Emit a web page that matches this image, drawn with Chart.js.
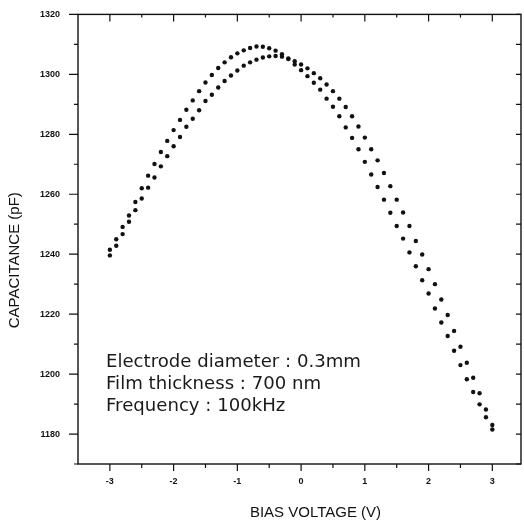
<!DOCTYPE html>
<html><head><meta charset="utf-8">
<script src="https://cdn.jsdelivr.net/npm/chart.js@4.4.0/dist/chart.umd.min.js"></script>
<style>html,body{margin:0;padding:0;background:#fff;}#wrap{width:524px;height:525px;position:relative;}</style>
</head><body><div id="wrap"><canvas id="c" width="524" height="525"></canvas></div>
<script>
const biasVoltage = [-3.0,-2.9,-2.8,-2.7,-2.6,-2.5,-2.4,-2.3,-2.2,-2.1,-2.0,-1.9,-1.8,-1.7,-1.6,-1.5,-1.4,-1.3,-1.2,-1.1,-1.0,-0.9,-0.8,-0.7,-0.6,-0.5,-0.4,-0.3,-0.2,-0.1,0.0,0.1,0.2,0.3,0.4,0.5,0.6,0.7,0.8,0.9,1.0,1.1,1.2,1.3,1.4,1.5,1.6,1.7,1.8,1.9,2.0,2.1,2.2,2.3,2.4,2.5,2.6,2.7,2.8,2.9,3.0];
const capacitanceSweepA = [1241.5,1245.0,1249.1,1252.9,1257.4,1262.0,1266.2,1270.1,1274.1,1277.8,1281.4,1284.8,1288.2,1291.3,1294.4,1297.3,1299.8,1302.1,1304.0,1305.7,1307.0,1308.0,1308.8,1309.3,1309.2,1308.7,1307.9,1306.7,1305.1,1303.3,1301.4,1299.4,1297.2,1294.9,1291.9,1289.2,1286.0,1282.3,1278.8,1275.0,1270.8,1266.6,1262.4,1258.2,1253.8,1249.4,1245.2,1240.6,1236.0,1231.3,1226.9,1221.9,1217.2,1212.7,1207.8,1203.0,1198.3,1194.0,1189.9,1185.6,1181.5];
const capacitanceSweepB = [1239.6,1242.8,1246.7,1250.8,1254.7,1258.6,1262.2,1265.6,1269.3,1272.7,1276.0,1279.1,1282.5,1285.2,1288.0,1291.1,1293.2,1295.6,1297.8,1299.6,1301.3,1302.9,1304.0,1304.9,1305.6,1306.0,1306.1,1305.9,1305.3,1304.4,1303.3,1302.0,1300.4,1298.7,1296.6,1294.4,1291.9,1289.1,1286.0,1282.6,1278.9,1275.0,1271.3,1267.1,1262.7,1258.2,1253.9,1249.4,1244.4,1239.9,1235.0,1230.0,1224.9,1219.7,1214.4,1209.1,1203.8,1198.8,1193.6,1188.2,1183.0];
const xTickValues = [-3,-2,-1,0,1,2,3];
const xMinorTickValues = [-2.5,-1.5,-0.5,0.5,1.5,2.5];
const yTickValues = [1180,1200,1220,1240,1260,1280,1300,1320];
const yMinorTickValues = [1170,1190,1210,1230,1250,1270,1290,1310];
const xAxisTitle = 'BIAS VOLTAGE (V)';
const yAxisTitle = 'CAPACITANCE (pF)';
const noteLines = ['Electrode diameter : 0.3mm','Film thickness : 700 nm','Frequency : 100kHz'];

const INK = '#111';
const tickFont = {family:'Liberation Sans', size:9, weight:'bold'};

const framePlugin = {
  id:'frame',
  afterDraw(chart){
    const {ctx, chartArea:a, scales:{x, y}} = chart;
    ctx.save();
    ctx.strokeStyle = INK; ctx.lineWidth = 1.4;
    ctx.strokeRect(a.left, a.top, a.right-a.left, a.bottom-a.top);
    ctx.lineWidth = 1.2;
    ctx.beginPath();
    const vx = (v,len,len2)=>{const p=x.getPixelForValue(v); ctx.moveTo(p,a.bottom); ctx.lineTo(p,a.bottom+len); ctx.moveTo(p,a.top); ctx.lineTo(p,a.top+len2);};
    xTickValues.forEach(v=>vx(v,7,7));
    xMinorTickValues.forEach(v=>vx(v,4,3));
    const hy = (v,len,len2)=>{const p=y.getPixelForValue(v); ctx.moveTo(a.left,p); ctx.lineTo(a.left-len,p); ctx.moveTo(a.right,p); ctx.lineTo(a.right-len2,p);};
    yTickValues.forEach(v=>hy(v,9,5));
    yMinorTickValues.forEach(v=>hy(v,4,5));
    ctx.stroke();
    // axis titles
    ctx.fillStyle = INK;
    ctx.font = '15px "Liberation Sans"';
    ctx.textAlign = 'center'; ctx.textBaseline = 'middle';
    ctx.fillText(xAxisTitle, (a.left+a.right)/2 + 16, a.bottom + 49);
    ctx.save();
    ctx.translate(15, (a.top+a.bottom)/2 + 21);
    ctx.rotate(-Math.PI/2);
    ctx.fillText(yAxisTitle, 0, 0);
    ctx.restore();
    // note
    ctx.font = '100px "DejaVu Sans"';
    const w = ctx.measureText(noteLines[0]).width;
    const fs = 100*255/w;
    ctx.font = fs.toFixed(2)+'px "DejaVu Sans"';
    ctx.fillStyle = '#1a1a1a';
    ctx.textAlign = 'left';
    noteLines.forEach((t,i)=>ctx.fillText(t, a.left+28, a.top+348+i*22));
    ctx.restore();
  }
};

const pts = arr => biasVoltage.map((v,i)=>({x:v, y:arr[i]}));
const dsStyle = {showLine:false, pointStyle:'circle', pointRadius:2.2, pointHoverRadius:2.2, pointBackgroundColor:INK, pointBorderWidth:0, borderColor:INK, backgroundColor:INK};

new Chart(document.getElementById('c'), {
  type:'scatter',
  data:{datasets:[
    Object.assign({label:'Sweep A', data:pts(capacitanceSweepA)}, dsStyle),
    Object.assign({label:'Sweep B', data:pts(capacitanceSweepB)}, dsStyle)
  ]},
  options:{
    responsive:false, animation:false, devicePixelRatio:1,
    layout:{padding:{top:14,right:3,bottom:0,left:0}},
    plugins:{legend:{display:false}, tooltip:{enabled:false}},
    scales:{
      x:{type:'linear', min:-3.5, max:3.45,
        grid:{display:false, drawTicks:true, tickLength:7}, border:{display:false},
        ticks:{font:tickFont, color:INK, padding:5, maxRotation:0, autoSkip:false, callback:v=>String(v)},
        afterBuildTicks:s=>{s.ticks = xTickValues.map(v=>({value:v}));},
        afterFit:s=>{s.height=61;}},
      y:{type:'linear', min:1170, max:1320,
        grid:{display:false, drawTicks:true, tickLength:9}, border:{display:false},
        ticks:{font:tickFont, color:INK, padding:9, autoSkip:false, callback:v=>String(v)},
        afterBuildTicks:s=>{s.ticks = yTickValues.map(v=>({value:v}));},
        afterFit:s=>{s.width=78;}}
    }
  },
  plugins:[framePlugin]
});
</script></body></html>
